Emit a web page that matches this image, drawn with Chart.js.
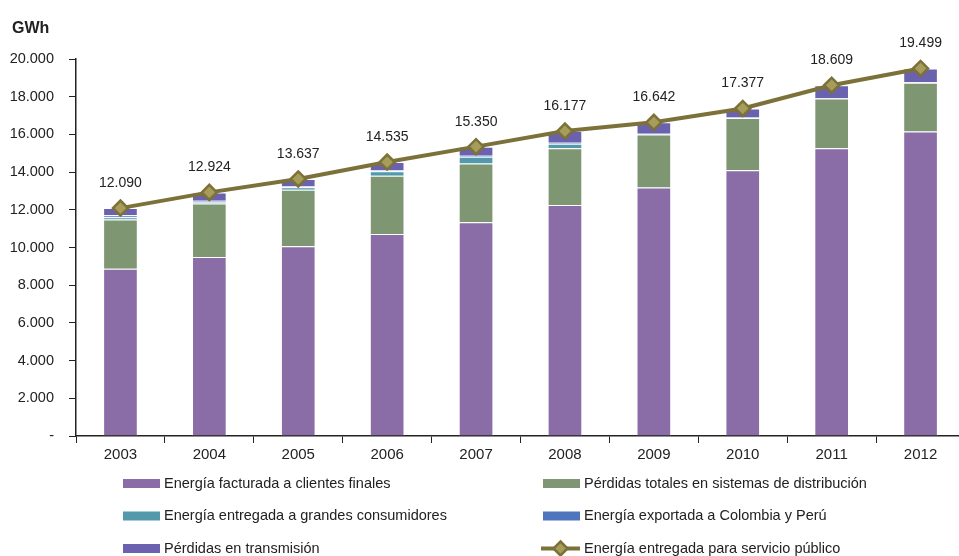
<!DOCTYPE html>
<html>
<head>
<meta charset="utf-8">
<script src="https://cdn.jsdelivr.net/npm/chart.js@4"></script>
<style>
  html, body { margin: 0; padding: 0; background: #fff; overflow: hidden; }
  canvas { display: block; }
</style>
</head>
<body>
<canvas id="energia" width="975" height="556"></canvas>
<script>
// Años
const years = ["2003", "2004", "2005", "2006", "2007", "2008", "2009", "2010", "2011", "2012"];

// Componentes de la energía (GWh)
const facturada = [8870, 9490, 10070, 10720, 11340, 12250, 13180, 14100, 15270, 16150];
const perdidasDistribucion = [2610, 2840, 3000, 3080, 3120, 3010, 2820, 2770, 2640, 2590];
const grandesConsumidores = [130, 100, 120, 250, 360, 250, 20, 20, 10, 10];
const exportada = [100, 50, 40, 50, 50, 50, 10, 10, 10, 10];
const perdidasTransmision = [380, 444, 407, 435, 480, 617, 612, 477, 679, 739];

// Total entregado para servicio público
const servicioPublico = [12090, 12924, 13637, 14535, 15350, 16177, 16642, 17377, 18609, 19499];

const yTicks = [0, 2000, 4000, 6000, 8000, 10000, 12000, 14000, 16000, 18000, 20000];

const FONT = "'Liberation Sans', Arial, sans-serif";
const LINE_COLOR = "#7c7138";
const MARKER_FILL = "#a79d5b";

function fmt(v) {
  return String(Math.round(v)).replace(/\B(?=(\d{3})+(?!\d))/g, ".");
}

function barSet(label, data, color) {
  return {
    type: "bar",
    label,
    data,
    backgroundColor: color,
    borderColor: "rgba(255,255,255,0.45)",
    borderWidth: 1,
    stack: "energia",
    order: 1,
    categoryPercentage: 1,
    barPercentage: 0.39
  };
}

// Etiquetas de valor sobre la línea
const valueLabels = {
  id: "valueLabels",
  afterDatasetsDraw(chart) {
    const ctx = chart.ctx;
    const meta = chart.getDatasetMeta(5);
    ctx.save();
    ctx.font = "14px " + FONT;
    ctx.fillStyle = "#222";
    ctx.textAlign = "center";
    ctx.textBaseline = "middle";
    meta.data.forEach((pt, i) => {
      ctx.fillText(fmt(servicioPublico[i]), pt.x, pt.y - 25);
    });
    ctx.restore();
  }
};

// Título del eje y leyenda en dos columnas
const extras = {
  id: "extras",
  afterDraw(chart) {
    const ctx = chart.ctx;
    ctx.save();
    ctx.font = "bold 16px " + FONT;
    ctx.fillStyle = "#222";
    ctx.textBaseline = "middle";
    ctx.fillText("GWh", 12, 29);

    const colX = [123, 543];
    const rowY = [483.5, 516, 548.5];
    ctx.font = "14.5px " + FONT;
    chart.data.datasets.forEach((ds, i) => {
      const x = colX[i % 2];
      const y = rowY[Math.floor(i / 2)];
      if (ds.type === "line") {
        ctx.strokeStyle = LINE_COLOR;
        ctx.lineWidth = 4;
        ctx.beginPath();
        ctx.moveTo(x - 2, y);
        ctx.lineTo(x + 37, y);
        ctx.stroke();
        ctx.beginPath();
        ctx.moveTo(x + 17.5, y - 7);
        ctx.lineTo(x + 24.5, y);
        ctx.lineTo(x + 17.5, y + 7);
        ctx.lineTo(x + 10.5, y);
        ctx.closePath();
        ctx.fillStyle = MARKER_FILL;
        ctx.fill();
        ctx.lineWidth = 2.5;
        ctx.stroke();
      } else {
        ctx.fillStyle = ds.backgroundColor;
        ctx.fillRect(x, y - 4.5, 37, 9);
      }
      ctx.fillStyle = "#222";
      ctx.fillText(ds.label, x + 41, y);
    });
    ctx.restore();
  }
};

new Chart(document.getElementById("energia"), {
  data: {
    labels: years,
    datasets: [
      barSet("Energía facturada a clientes finales", facturada, "#8a6ca7"),
      barSet("Pérdidas totales en sistemas de distribución", perdidasDistribucion, "#7e9672"),
      barSet("Energía entregada a grandes consumidores", grandesConsumidores, "#5299ac"),
      barSet("Energía exportada a Colombia y Perú", exportada, "#4f76bd"),
      barSet("Pérdidas en transmisión", perdidasTransmision, "#6a62ae"),
      {
        type: "line",
        label: "Energía entregada para servicio público",
        data: servicioPublico,
        stack: "total",
        order: 0,
        borderColor: LINE_COLOR,
        borderWidth: 4,
        tension: 0,
        pointStyle: "rectRot",
        pointRadius: 7.5,
        pointBackgroundColor: MARKER_FILL,
        pointBorderColor: LINE_COLOR,
        pointBorderWidth: 2.5
      }
    ]
  },
  options: {
    responsive: false,
    animation: false,
    layout: { padding: { top: 59, right: 9, bottom: 0, left: 0 } },
    plugins: {
      legend: { display: false },
      tooltip: { enabled: false }
    },
    scales: {
      x: {
        stacked: true,
        grid: { offset: true, drawOnChartArea: false, tickLength: 7, color: "#222", lineWidth: 1 },
        border: { color: "#222", width: 1.5 },
        ticks: { color: "#222", font: { family: FONT, size: 15 }, padding: 3 },
        afterFit(scale) { scale.height = 120; }
      },
      y: {
        stacked: true,
        min: 0,
        max: 20000,
        afterBuildTicks(scale) { scale.ticks = yTicks.map(v => ({ value: v })); },
        grid: { drawOnChartArea: false, tickLength: 7, color: "#222", lineWidth: 1 },
        border: { color: "#222", width: 1.5 },
        ticks: {
          color: "#222",
          font: { family: FONT, size: 14.5 },
          padding: 15,
          callback: v => (v === 0 ? "-" : fmt(v))
        },
        afterFit(scale) { scale.width = 76; }
      }
    }
  },
  plugins: [valueLabels, extras]
});
</script>
</body>
</html>
